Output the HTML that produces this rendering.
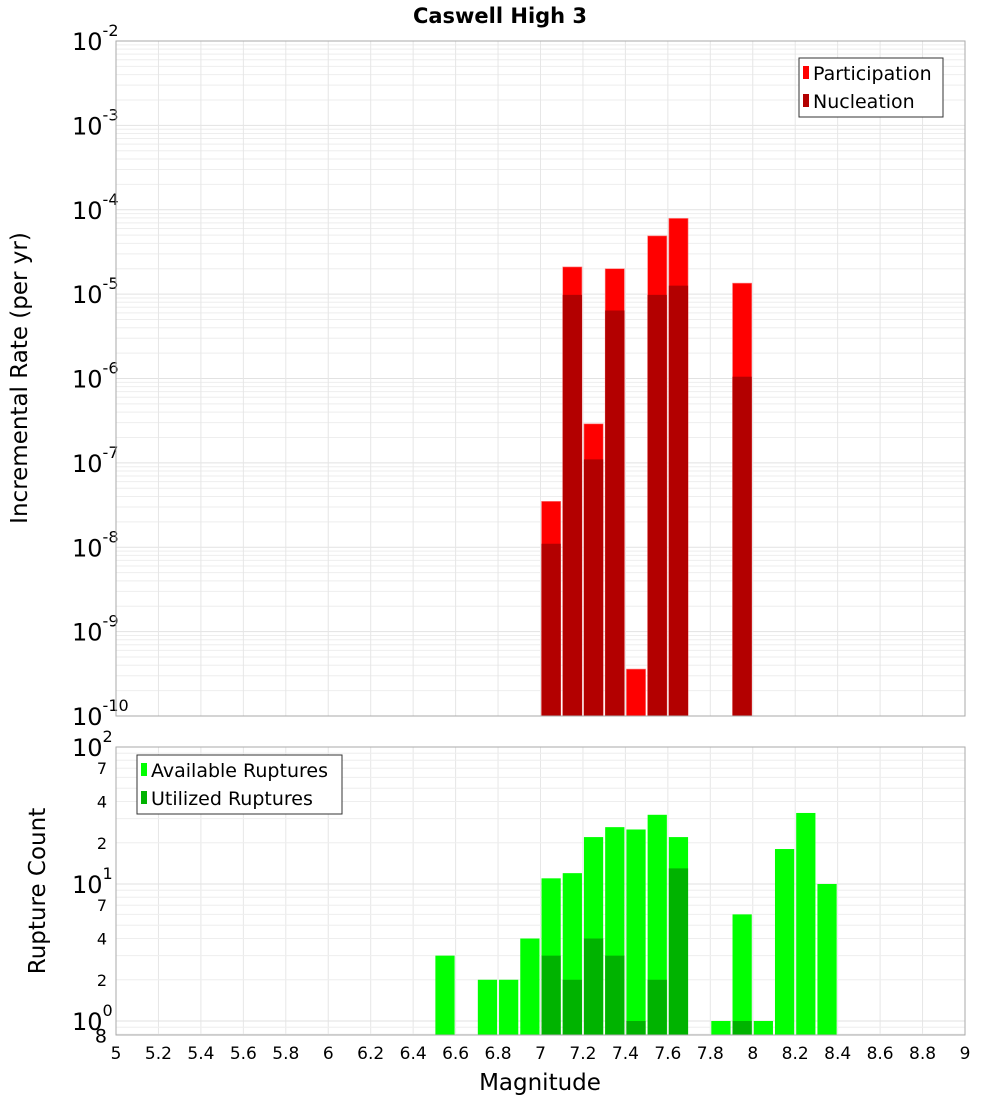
<!DOCTYPE html>
<html><head><meta charset="utf-8">
<style>
body{margin:0;background:#fff;}
svg{display:block;font-family:"DejaVu Sans","Liberation Sans",sans-serif;}
</style></head>
<body>
<svg id="chart" width="1000" height="1100" xmlns="http://www.w3.org/2000/svg">
<text x="500" y="23" text-anchor="middle" font-size="21" font-weight="bold">Caswell High 3</text>
<g id="topPlot"></g>
<g id="botPlot"></g>
<text transform="translate(27,378) rotate(-90)" text-anchor="middle" font-size="23">Incremental Rate (per yr)</text>
<text transform="translate(45,891) rotate(-90)" text-anchor="middle" font-size="23">Rupture Count</text>
<text x="540" y="1090" text-anchor="middle" font-size="23">Magnitude</text>
<g id="legends"></g>
</svg>
<script>
const mags = [7.05,7.15,7.25,7.35,7.45,7.55,7.65,7.95];
const participation = [3.5e-8,2.1e-5,2.9e-7,2.0e-5,3.6e-10,4.9e-5,7.9e-5,1.35e-5];
const nucleation = [1.1e-8,9.8e-6,1.1e-7,6.4e-6,0,9.8e-6,1.26e-5,1.05e-6];
const countMags = [6.55,6.75,6.85,6.95,7.05,7.15,7.25,7.35,7.45,7.55,7.65,7.85,7.95,8.05,8.15,8.25,8.35];
const available = [3,2,2,4,11,12,22,26,25,32,22,1,6,1,18,33,10];
const utilized = [0,0,0,0,3,2,4,3,1,2,13,0,1,0,0,0,0];
const xTicks = [5,5.2,5.4,5.6,5.8,6,6.2,6.4,6.6,6.8,7,7.2,7.4,7.6,7.8,8,8.2,8.4,8.6,8.8,9];

const NS="http://www.w3.org/2000/svg";
const L=116,R=965;
const xS=m=>L+(m-5)/4*(R-L);
const T1=41,B1=716;
const y1=v=>T1+(-2-Math.log10(v))/8*(B1-T1);
const T2=747,B2=1035;
const dec2=137;
const y2=v=>T2+(2-Math.log10(v))*dec2;
function mk(p,tag,a){const e=document.createElementNS(NS,tag);for(const k in a)e.setAttribute(k,a[k]);p.appendChild(e);return e;}
const topG=document.getElementById('topPlot'),botG=document.getElementById('botPlot');
const legG=document.getElementById('legends');

// top grid
for(let d=-10;d<-2;d++)for(let k=1;k<10;k++){const yy=y1(k*Math.pow(10,d));
 const g=mk(topG,'line',{x1:L,x2:R,y1:yy,y2:yy,stroke:k==1?'#e2e2e2':'#eeeeee','stroke-width':1});
 
 }
for(const t of xTicks){const g=mk(topG,'line',{x1:xS(t),x2:xS(t),y1:T1,y2:B1,stroke:'#e6e6e6'});
 
 
 const h=mk(botG,'line',{x1:xS(t),x2:xS(t),y1:T2,y2:B2,stroke:'#e6e6e6'});
 
 }
// top labels
for(let d=-10;d<=-2;d++){const yy=y1(Math.pow(10,d));
 const t=mk(topG,'text',{x:72,y:yy+9,'font-size':24});
 
 
 t.textContent='10';const s=mk(t,'tspan',{dy:-14,'font-size':16});s.textContent=String(d);}
// top bars
mags.forEach((m,i)=>{const x0=xS(m-0.05)+1,w=xS(m+0.05)-xS(m-0.05)-2;
 const p=mk(topG,'rect',{x:x0,y:y1(participation[i]),width:w,height:B1-y1(participation[i]),fill:'#ff0000',stroke:'#ff8080','stroke-width':0.6});
 
 
 if(nucleation[i]>0){const n=mk(topG,'rect',{x:x0,y:y1(nucleation[i]),width:w,height:B1-y1(nucleation[i]),fill:'#b30000'});
 
 }
});
mk(topG,'rect',{x:L,y:T1,width:R-L,height:B1-T1,fill:'none',stroke:'#aaa'});

// bottom grid
for(let d=-1;d<2;d++)for(let k=1;k<10;k++){const v=k*Math.pow(10,d);const yy=y2(v);if(yy>B2||yy<T2)continue;
 const g=mk(botG,'line',{x1:L,x2:R,y1:yy,y2:yy,stroke:k==1?'#e2e2e2':'#eeeeee'});
 
 }
[[100,1],[7e1,0],[4e1,0],[2e1,0],[10,1],[7,0],[4,0],[2,0],[1,1],[0.8,0]].forEach(([v,big])=>{
 const yy=y2(v);
 if(big){const t=mk(botG,'text',{x:72,y:yy+9,'font-size':24});
  
  
  t.textContent='10';const s=mk(t,'tspan',{dy:-14,'font-size':16});s.textContent=String(Math.round(Math.log10(v)));}
 else{const t=mk(botG,'text',{x:107,y:yy+(v==0.8?8:6),'font-size':v==0.8?19:16,'text-anchor':'end'});
  
  
  t.textContent=v>=10?String(v/10):(v==0.8?'8':String(v));}
});
countMags.forEach((m,i)=>{const x0=xS(m-0.05)+1,w=xS(m+0.05)-xS(m-0.05)-2;
 const a=mk(botG,'rect',{x:x0,y:y2(available[i]),width:w,height:B2-y2(available[i]),fill:'#00ff00'});
 
 
 if(utilized[i]>0){const u=mk(botG,'rect',{x:x0,y:y2(utilized[i]),width:w,height:B2-y2(utilized[i]),fill:'#00b300'});
 
 }
});
mk(botG,'rect',{x:L,y:T2,width:R-L,height:B2-T2,fill:'none',stroke:'#aaa'});
for(const t of xTicks){const e=mk(botG,'text',{x:xS(t),y:1059,'text-anchor':'middle','font-size':17});
 
 
 e.textContent=String(t);}
</script>
<svg style="position:absolute;left:0;top:0" width="1000" height="1100" xmlns="http://www.w3.org/2000/svg" font-family="DejaVu Sans, Liberation Sans, sans-serif">
<g>
<rect x="799" y="58" width="144" height="59" fill="#fff" stroke="#333"/>
<rect x="803" y="66" width="6" height="13" fill="#ff0000"/>
<text x="813" y="80" font-size="19">Participation</text>
<rect x="803" y="94" width="6" height="13" fill="#b30000"/>
<text x="813" y="108" font-size="19">Nucleation</text>
</g>
<g>
<rect x="137" y="755" width="205" height="59" fill="#fff" stroke="#333"/>
<rect x="141" y="763" width="6" height="13" fill="#00ff00"/>
<text x="151" y="777" font-size="19">Available Ruptures</text>
<rect x="141" y="791" width="6" height="13" fill="#00b300"/>
<text x="151" y="805" font-size="19">Utilized Ruptures</text>
</g>
</svg>
</body></html>
